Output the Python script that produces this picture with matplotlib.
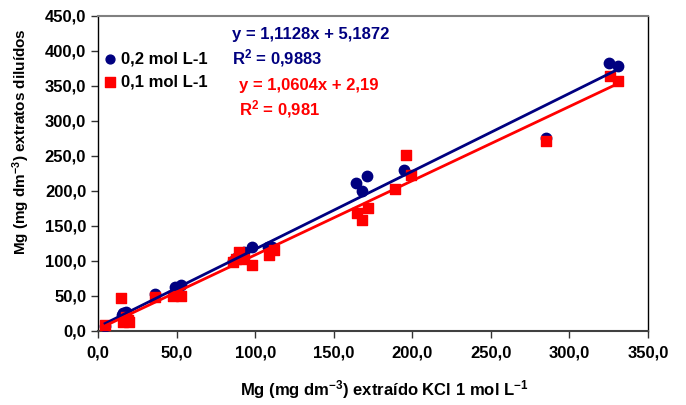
import matplotlib.pyplot as plt
import numpy as np

plt.rcParams['font.family'] = ['Liberation Sans', 'DejaVu Sans']
plt.rcParams['font.weight'] = 'bold'
plt.rcParams['mathtext.fontset'] = 'custom'
plt.rcParams['mathtext.rm'] = 'Liberation Sans:bold'
plt.rcParams['mathtext.default'] = 'rm'

# 0,2 mol L-1
x_02 = [4.5, 15, 16, 18, 36, 49, 53, 86, 88, 91, 93, 98, 108, 111, 164, 168, 171, 195, 285, 325, 331]
y_02 = [7, 22, 25, 26, 52, 62, 65, 100, 104, 108, 113, 119, 120, 119, 211, 200, 221, 230, 276, 383, 378]

# 0,1 mol L-1
x_01 = [4.5, 14.5, 16, 18, 19, 20, 36, 48, 53, 86, 88, 90, 93, 98, 109, 112,
        165, 168, 172, 189, 196, 199, 285, 326, 331]
y_01 = [8, 47, 12, 20, 15, 12, 48, 50, 50, 98, 102, 112, 103, 94, 108, 115,
        168, 158, 175, 203, 251, 223, 271, 364, 357]

# trendlines as printed on the chart
fit_02 = (1.1128, 5.1872)
fit_01 = (1.0604, 2.19)

blue = '#000080'
red = '#FF0000'
fs = 12

fig = plt.figure(figsize=(6.86, 4.05), dpi=100)
ax = fig.add_axes([0.1429, 0.1835, 0.8017, 0.7777])

ax.scatter(x_02, y_02, s=56, marker='o', color=blue, zorder=3, label='0,2 mol L-1')
ax.scatter(x_01, y_01, s=62, marker='s', color=red, zorder=4, label='0,1 mol L-1')

xs = np.array([min(x_02), max(x_02)])
ax.plot(xs, fit_02[0] * xs + fit_02[1], color=blue, lw=2, zorder=5)
xs = np.array([min(x_01), max(x_01)])
ax.plot(xs, fit_01[0] * xs + fit_01[1], color=red, lw=2, zorder=5)

ax.set_xlim(0, 350)
ax.set_ylim(0, 450)
ax.set_xticks(np.arange(0, 351, 50))
ax.set_yticks(np.arange(0, 451, 50))
ax.set_xticklabels([f'{v:.1f}'.replace('.', ',') for v in np.arange(0, 351, 50)])
ax.set_yticklabels([f'{v:.1f}'.replace('.', ',') for v in np.arange(0, 451, 50)])
ax.tick_params(labelsize=fs, length=5, width=1, color='#333333')
ax.tick_params(axis='x', pad=6)
for lbl in ax.get_xticklabels() + ax.get_yticklabels():
    lbl.set_fontweight('bold')

ax.spines['top'].set_color('#808080')
ax.spines['top'].set_linewidth(1.5)
for s in ['left', 'bottom', 'right']:
    ax.spines[s].set_color('black')
    ax.spines[s].set_linewidth(1)
ax.spines['bottom'].set_color('#404040')
ax.spines['bottom'].set_linewidth(1.5)

ax.set_xlabel('Mg (mg dm$^{-3}$) extraído KCl 1 mol L$^{-1}$', fontsize=fs, fontweight='bold')
ax.set_ylabel('Mg (mg dm$^{-3}$) extratos diluídos', fontsize=11, fontweight='bold')
ax.xaxis.set_label_coords(0.52, -0.15)
ax.yaxis.set_label_coords(-0.12, 0.6)

ax.legend(loc='upper left', bbox_to_anchor=(-0.012, 0.925), frameon=False, fontsize=fs,
          handletextpad=0.3, handlelength=0.8, borderaxespad=0.3, labelspacing=0.5,
          markerscale=0.85)

ax.text(0.243, 0.94, 'y = 1,1128x + 5,1872', transform=ax.transAxes, color=blue,
        fontsize=fs, fontweight='bold', va='center')
ax.text(0.243, 0.865, 'R$^{2}$ = 0,9883', transform=ax.transAxes, color=blue,
        fontsize=fs, fontweight='bold', va='center')
ax.text(0.256, 0.78, 'y = 1,0604x + 2,19', transform=ax.transAxes, color=red,
        fontsize=fs, fontweight='bold', va='center')
ax.text(0.256, 0.705, 'R$^{2}$ = 0,981', transform=ax.transAxes, color=red,
        fontsize=fs, fontweight='bold', va='center')

fig.savefig('out.png', dpi=100)
